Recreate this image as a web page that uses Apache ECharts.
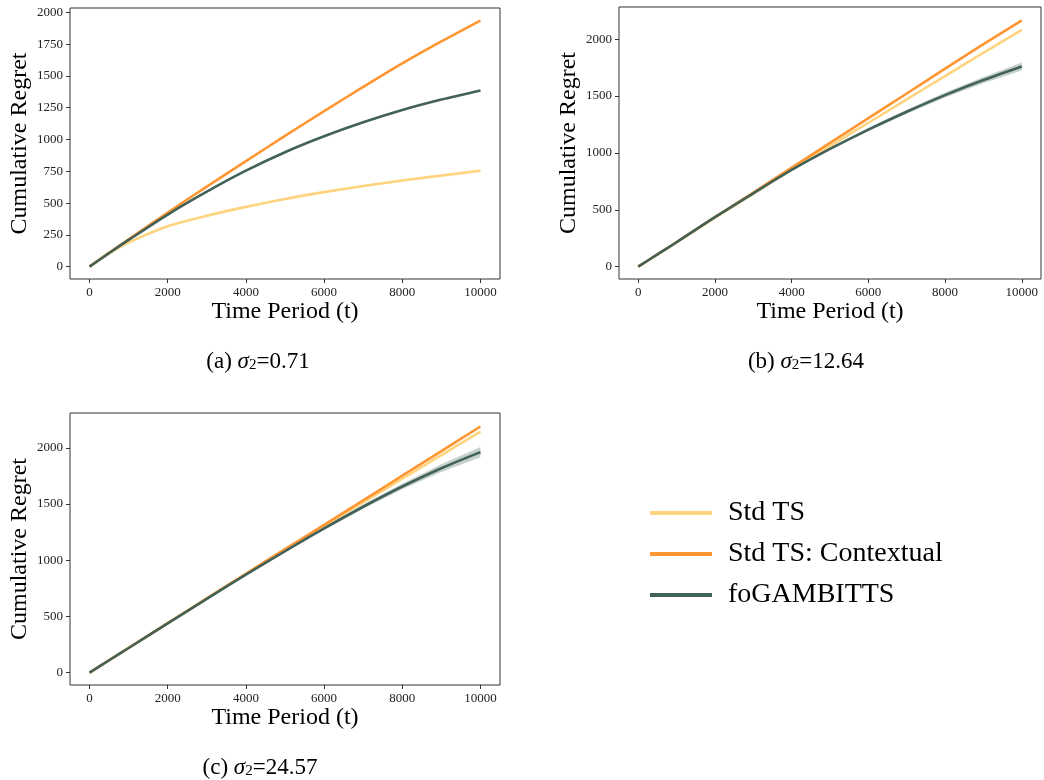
<!DOCTYPE html>
<html>
<head>
<meta charset="utf-8">
<script src="https://cdn.jsdelivr.net/npm/echarts@6/dist/echarts.min.js"></script>
<style>
  html, body { margin: 0; padding: 0; background: #fff; }
  #chart { width: 1044px; height: 780px; }
</style>
</head>
<body>
<div id="chart"></div>
<script>
// time steps shared by every panel
const T = [0, 500, 1000, 2000, 3000, 4000, 5000, 6000, 7000, 8000, 9000, 10000];
const xTicks = [0, 2000, 4000, 6000, 8000, 10000];

// (a) sigma2 = 0.71
const aStd = [0, 105, 190, 318, 400, 470, 532, 586, 634, 677, 717, 754];
const aCtx = [0, 110, 215, 425, 630, 830, 1028, 1223, 1413, 1598, 1771, 1935];
const aFog = [0, 106, 210, 410, 590, 755, 900, 1025, 1135, 1232, 1314, 1386];
const aStdBand = [0, 2, 3, 4, 5, 6, 7, 8, 9, 10, 11, 12];
const aFogBand = [0, 1, 1, 2, 2, 3, 3, 4, 4, 5, 5, 6];
const aTicks = [0, 250, 500, 750, 1000, 1250, 1500, 1750, 2000];

// (b) sigma2 = 12.64
const bStd = [0, 107, 213, 430, 640, 855, 1060, 1265, 1470, 1675, 1880, 2082];
const bCtx = [0, 108, 216, 435, 652, 870, 1088, 1305, 1522, 1740, 1955, 2165];
const bFog = [0, 108, 215, 435, 645, 850, 1035, 1205, 1362, 1508, 1640, 1760];
const bStdBand = [0, 1, 2, 3, 4, 5, 6, 7, 8, 9, 10, 12];
const bFogBand = [0, 1, 2, 3, 5, 7, 10, 14, 18, 22, 28, 35];
const bTicks = [0, 500, 1000, 1500, 2000];

// (c) sigma2 = 24.57
const cStd = [0, 110, 220, 440, 660, 878, 1092, 1305, 1515, 1725, 1935, 2145];
const cCtx = [0, 110, 220, 440, 660, 880, 1098, 1315, 1533, 1752, 1971, 2190];
const cFog = [0, 110, 219, 438, 656, 872, 1080, 1283, 1476, 1656, 1819, 1962];
const cStdBand = [0, 1, 1, 2, 3, 4, 5, 6, 7, 8, 10, 12];
const cFogBand = [0, 1, 2, 3, 4, 6, 9, 13, 19, 25, 35, 45];
const cTicks = [0, 500, 1000, 1500, 2000];

const names = ['Std TS', 'Std TS: Contextual', 'foGAMBITTS'];
const colors = ['#FFD480', '#FF9632', '#426259'];
const bandColors = ['rgba(255,212,128,0.4)', '', 'rgba(66,98,89,0.3)'];
const serif = 'Liberation Serif';

const myChart = echarts.init(document.getElementById('chart'));

function pairs(ys) { return T.map((t, i) => [t, ys[i]]); }

// shaded band (mean +- band) drawn as a polygon through the axis scales
function bandSeries(idx, mean, band, k) {
  return {
    name: 'band' + idx + '-' + k, type: 'custom', coordinateSystem: 'cartesian2d',
    xAxisIndex: idx, yAxisIndex: idx, silent: true, z: 1,
    data: [[0]],
    renderItem: function (params, api) {
      const upper = T.map((t, i) => api.coord([t, mean[i] + band[i]]));
      const lower = T.map((t, i) => api.coord([t, mean[i] - band[i]])).reverse();
      return {
        type: 'polygon',
        shape: { points: upper.concat(lower) },
        style: { fill: bandColors[k], stroke: null }
      };
    }
  };
}

function lineSeries(idx, k, ys) {
  return {
    name: names[k], type: 'line', xAxisIndex: idx, yAxisIndex: idx,
    data: pairs(ys), smooth: 0.3, showSymbol: false,
    color: colors[k],
    itemStyle: { color: colors[k] },
    lineStyle: { color: colors[k], width: 2.6 },
    z: 3 + k
  };
}

const panels = [
  { std: aStd, ctx: aCtx, fog: aFog, stdBand: aStdBand, fogBand: aFogBand, ticks: aTicks, min: -97, max: 2034,
    grid: { left: 70, top: 8, width: 430, height: 271 } },
  { std: bStd, ctx: bCtx, fog: bFog, stdBand: bStdBand, fogBand: bFogBand, ticks: bTicks, min: -108, max: 2282,
    grid: { left: 619, top: 7, width: 422, height: 272 } },
  { std: cStd, ctx: cCtx, fog: cFog, stdBand: cStdBand, fogBand: cFogBand, ticks: cTicks, min: -110, max: 2310,
    grid: { left: 70, top: 413, width: 430, height: 272 } }
];

const grids = [], xAxes = [], yAxes = [], series = [];
panels.forEach((p, idx) => {
  grids.push(Object.assign({ show: true, borderColor: '#333', borderWidth: 1, backgroundColor: 'transparent' }, p.grid));
  xAxes.push({
    type: 'value', gridIndex: idx, min: -500, max: 10500,
    name: 'Time Period (t)', nameLocation: 'middle', nameGap: 20,
    nameTextStyle: { fontFamily: serif, fontSize: 24, color: '#000' },
    axisLine: { show: false, onZero: false },
    axisTick: { show: true, length: 4, customValues: xTicks, lineStyle: { color: '#333' } },
    axisLabel: { customValues: xTicks, formatter: v => String(v), fontFamily: serif, fontSize: 13, color: '#222', margin: 7 },
    splitLine: { show: false }
  });
  yAxes.push({
    type: 'value', gridIndex: idx, min: p.min, max: p.max,
    name: 'Cumulative Regret', nameLocation: 'middle', nameGap: 38,
    nameTextStyle: { fontFamily: serif, fontSize: 24, color: '#000' },
    axisLine: { show: false, onZero: false },
    axisTick: { show: true, length: 4, customValues: p.ticks, lineStyle: { color: '#333' } },
    axisLabel: { customValues: p.ticks, formatter: v => String(v), fontFamily: serif, fontSize: 13, color: '#222', margin: 7 },
    splitLine: { show: false }
  });
  series.push(bandSeries(idx, p.std, p.stdBand, 0));
  series.push(bandSeries(idx, p.fog, p.fogBand, 2));
  series.push(lineSeries(idx, 0, p.std));
  series.push(lineSeries(idx, 1, p.ctx));
  series.push(lineSeries(idx, 2, p.fog));
});

const capRich = {
  s: { fontFamily: serif, fontSize: 23, fontStyle: 'italic', color: '#000' },
  sub: { fontFamily: serif, fontSize: 15, color: '#000', verticalAlign: 'bottom', lineHeight: 15, padding: [9, 0, 0, 0] }
};
function caption(txt, val, x, y) {
  return {
    text: '(' + txt + ') {s|σ}{sub|2}=' + val, left: x, top: y, textAlign: 'center',
    textStyle: { fontFamily: serif, fontSize: 23, fontWeight: 'normal', color: '#000', rich: capRich }
  };
}

const option = {
  animation: false,
  backgroundColor: '#fff',
  title: [
    caption('a', '0.71', 253, 345),
    caption('b', '12.64', 801, 345),
    caption('c', '24.57', 255, 751)
  ],
  legend: {
    data: names.map(n => ({ name: n, icon: 'rect' })),
    orient: 'vertical', left: 645, top: 492,
    itemWidth: 62, itemHeight: 4, itemGap: 9,
    textStyle: { fontFamily: serif, fontSize: 28, color: '#000', lineHeight: 32, padding: [0, 0, 0, 11] }
  },
  grid: grids,
  xAxis: xAxes,
  yAxis: yAxes,
  series: series
};
myChart.setOption(option);
</script>
</body>
</html>
